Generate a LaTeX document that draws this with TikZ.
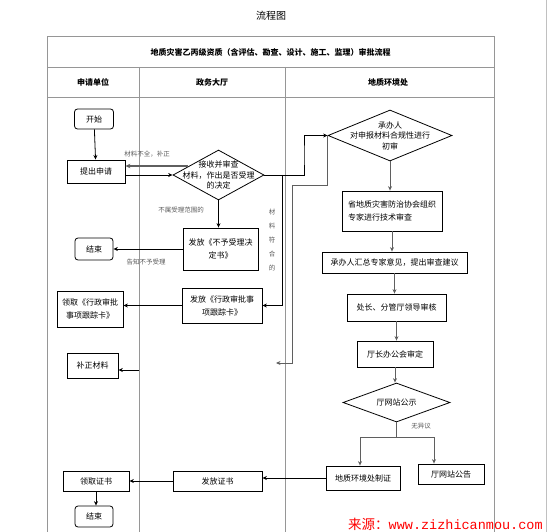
\documentclass[tikz,border=0pt]{standalone}
\usepackage{fontspec}
\setmainfont{Noto Sans CJK SC}
\newfontfamily\monofnt{Liberation Mono}
\definecolor{lineGray}{RGB}{150,150,150}
\definecolor{arrGray}{RGB}{95,95,95}
\definecolor{labGray}{RGB}{90,90,90}
\definecolor{markRed}{RGB}{255,0,0}
\usetikzlibrary{shapes, arrows.meta, positioning, calc}

\begin{document}
\begin{tikzpicture}[
        x=1pt, y=-1pt,
        proc/.style={rectangle, draw, line width=0.8pt, inner sep=1pt, align=center, font=\fontsize{8}{13}\selectfont},
        term/.style={proc, rounded corners=3pt},
        decide/.style={diamond, draw, line width=0.8pt, inner sep=0pt},
        dtext/.style={align=center, inner sep=0pt, font=\fontsize{8}{10.5}\selectfont},
        lab/.style={inner sep=0pt, text=labGray, font=\fontsize{6.5}{8}\selectfont},
        arr/.style={-{Stealth[length=4.5pt,width=4pt]}, line width=0.8pt},
        garr/.style={arr, draw=arrGray}
    ]
        \useasboundingbox (0,0) rectangle (549,532);

        % Table
        \draw[lineGray, line width=0.7pt] (47,532) -- (47,36) -- (494,36) -- (494,532);
        \draw[lineGray, line width=0.7pt] (47,67) -- (494,67);
        \draw[lineGray, line width=0.7pt] (47,97) -- (494,97);
        \draw[lineGray, line width=0.7pt] (139,67) -- (139,532);
        \draw[lineGray, line width=0.7pt] (285,67) -- (285,532);
        \draw[lineGray!60, line width=0.7pt] (546,0) -- (546,532);

        % Headings
        \node[font=\fontsize{10}{12}\selectfont] (head) at (271,16) {流程图};
        \node[font=\bfseries\fontsize{8}{10}\selectfont] (title) at (270.5,52) {地质灾害乙丙级资质（含评估、勘查、设计、施工、监理）审批流程};
        \node[font=\bfseries\fontsize{8}{10}\selectfont] (colA) at (93,82) {申请单位};
        \node[font=\bfseries\fontsize{8}{10}\selectfont] (colB) at (212,82) {政务大厅};
        \node[font=\bfseries\fontsize{8}{10}\selectfont] (colC) at (388,82) {地质环境处};

        % Applicant
        \node[term, minimum width=39, minimum height=20] (start) at (94,119) {开始};
        \node[proc, minimum width=58, minimum height=23] (apply) at (96,171.5) {提出申请};
        \node[term, minimum width=38, minimum height=22] (end1) at (94,249) {结束};
        \node[proc, minimum width=66, minimum height=36] (getcard) at (90,309) {领取《行政审批\\事项跟踪卡》};
        \node[proc, minimum width=51, minimum height=25] (fix) at (92.5,365.5) {补正材料};
        \node[proc, minimum width=66, minimum height=20] (getcert) at (96,481) {领取证书};
        \node[term, minimum width=38, minimum height=21] (end2) at (94,516.5) {结束};

        % Service hall
        \node[decide, minimum width=91, minimum height=50] (chk) at (218.5,175) {};
        \node[dtext] (chkT) at (chk.center) {接收并审查\\材料，作出是否受理\\的决定};
        \node[proc, minimum width=75, minimum height=42] (reject) at (220.5,249) {发放《不予受理决\\定书》};
        \node[proc, minimum width=80, minimum height=35] (card) at (222,305.5) {发放《行政审批事\\项跟踪卡》};
        \node[proc, minimum width=89, minimum height=20] (issue) at (217.5,481) {发放证书};

        % Geo-environment office
        \node[decide, minimum width=124, minimum height=51] (init) at (390,135.5) {};
        \node[dtext] (initT) at (init.center) {承办人\\对申报材料合规性进行\\初审};
        \node[proc, minimum width=100, minimum height=40, align=left] (expert) at (392,211) {省地质灾害防治协会组织\\专家进行技术审查};
        \node[proc, minimum width=145, minimum height=21] (sum) at (394.5,262.5) {承办人汇总专家意见，提出审查建议};
        \node[proc, minimum width=99, minimum height=27] (lead) at (396.5,307.5) {处长、分管厅领导审核};
        \node[proc, minimum width=76, minimum height=26] (meet) at (395,354) {厅长办公会审定};
        \node[decide, minimum width=107, minimum height=39] (pub) at (396.5,402.5) {};
        \node[dtext] (pubT) at (pub.center) {厅网站公示};
        \node[proc, minimum width=74, minimum height=24] (cert) at (363,478) {地质环境处制证};
        \node[proc, minimum width=66, minimum height=20] (notice) at (451,474) {厅网站公告};

        % Helper points
        \coordinate (back) at (188,166);
        \coordinate (j1) at (304,155);
        \coordinate (j2) at (282,175);
        \coordinate (r1) at (292,185);
        \coordinate (r2) at (276,363);
        \coordinate (r3) at (139,370);
        \coordinate (sl) at (360,437);
        \coordinate (sr) at (434,437);

        % Connectors, applicant and hall
        \draw[arr] (start) -- (apply);
        \draw[arr] (apply.east |- chk.west) -- (chk.west);
        \draw[-{Stealth[length=5pt,width=4.5pt]}, line width=1.6pt, draw=arrGray] (back) -- (back -| apply.east);
        \node[lab] (lackLab) at (147,154) {材料不全，补正};
        \draw[arr] (chk.south) -- (chk.south |- reject.north);
        \node[lab] (outLab) at (181,210) {不属受理范围的};
        \draw[arr] (reject.west |- end1.east) -- (end1.east);
        \node[lab] (tellLab) at (146,262) {告知不予受理};
        \draw[arr] (chk.east) -| (j1) |- (init.west);
        \draw[arr] (j2) |- (card.east);
        \node[lab, align=center, font=\fontsize{6.5}{14}\selectfont] (okLab) at (272,240) {材\\料\\符\\合\\的};
        \draw[arr] (card.west) -- (card.west -| getcard.east);

        % Back to applicant for more material
        \draw[garr, line width=1pt] (init.west) |- (r1) |- (r2);
        \draw[arr] (r3) -- (r3 -| fix.east);

        % Review chain
        \draw[garr] (init.south) -- (init.south |- expert.north);
        \draw[garr] (expert.south) -- (expert.south |- sum.north);
        \draw[garr] (sum.south) -- (sum.south |- lead.north);
        \draw[garr] (lead.south) -- (lead.south |- meet.north);
        \draw[garr] (meet.south) -- (meet.south |- pub.north);
        \draw[arrGray, line width=0.8pt] (pub.south) -- (pub.south |- sl);
        \draw[arrGray, line width=0.8pt] (sl) -- (sr);
        \draw[garr] (sl) -- (sl |- cert.north);
        \draw[garr] (sr) -- (sr |- notice.north);
        \node[lab] (okPub) at (421,426) {无异议};

        % Certificate
        \draw[arr] (cert.west) -- (cert.west -| issue.east);
        \draw[arr] (issue.west) -- (issue.west -| getcert.east);
        \draw[arr] (getcert.south) -- (getcert.south |- end2.north);

        % Source mark
        \node[anchor=base west, inner sep=0pt, text=markRed, font=\fontsize{13.5}{16}\selectfont] (src) at (348,529) {来源：\monofnt www.zizhicanmou.com};
    \end{tikzpicture}
\end{document}
